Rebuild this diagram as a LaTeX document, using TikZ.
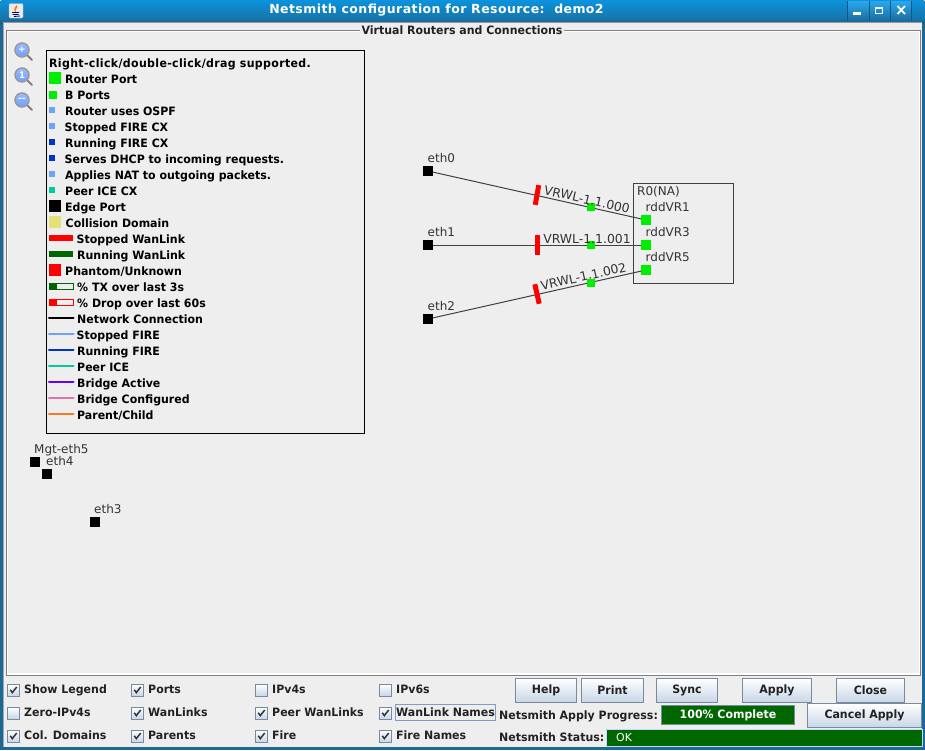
\documentclass[tikz,border=0pt]{standalone}
\usepackage{fontspec}
\setmainfont{DejaVu Sans}
\newfontfamily\uibold[FakeStretch=0.955]{DejaVu Sans Bold}
\newfontfamily\uihead[FakeStretch=0.955,LetterSpace=3]{DejaVu Sans Bold}
\newfontfamily\uititle[LetterSpace=3.4]{DejaVu Sans Bold}
\newfontfamily\uiplain{DejaVu Sans}
\definecolor{panelbg}{HTML}{EEEEEE}
\definecolor{winblue}{HTML}{1B6A96}
\definecolor{titletop}{HTML}{0B93DD}
\definecolor{titlebot}{HTML}{1A6C9C}
\definecolor{btntop}{HTML}{2AA8EE}
\definecolor{portgreen}{HTML}{00EE00}
\definecolor{fireLight}{HTML}{6F9FFF}
\definecolor{fireDark}{HTML}{0033CC}
\definecolor{iceGreen}{HTML}{00CC99}
\definecolor{colDomain}{HTML}{E6E07A}
\definecolor{wanGreen}{HTML}{006600}
\definecolor{wanRed}{HTML}{FF0000}
\definecolor{bridgeA}{HTML}{6600FF}
\definecolor{bridgeC}{HTML}{DD77AA}
\definecolor{parentC}{HTML}{FF7722}
\definecolor{btnEdge}{HTML}{7A8A9E}
\definecolor{btnBot}{HTML}{C6D6E8}
\definecolor{uiText}{HTML}{222222}
\tikzset{
  legtxt/.style={inner sep=0pt,anchor=base west,font=\uibold\fontsize{11.5}{13}\selectfont,text=black},
  uitxt/.style={inner sep=0pt,anchor=base west,font=\uibold\fontsize{11.5}{13}\selectfont,text=uiText},
  nettxt/.style={inner sep=0pt,anchor=base west,font=\uiplain\fontsize{12}{14}\selectfont,text=black!80},
  wantxt/.style={inner sep=0pt,font=\uiplain\fontsize{12.4}{14}\selectfont,text=black!80},
  edgeport/.style={fill=black,inner sep=0pt,outer sep=0pt,minimum width=10pt,minimum height=10pt},
  routerport/.style={fill=portgreen,inner sep=0pt,outer sep=0pt,minimum width=10pt,minimum height=10pt},
  bport/.style={fill=portgreen,inner sep=0pt,outer sep=0pt,minimum width=8pt,minimum height=8pt},
  wanbar/.style={fill=wanRed,inner sep=0pt,outer sep=0pt,minimum width=5pt,minimum height=20pt},
  netline/.style={draw=black!75,line width=1pt},
  btn/.style={draw=btnEdge,line width=1pt,top color=white,bottom color=btnBot,inner sep=0pt,outer sep=0pt,font=\uibold\fontsize{11.5}{13}\selectfont,text=uiText},
  cb/.style={draw=btnEdge,line width=1pt,top color=white,bottom color=btnBot,inner sep=0pt,outer sep=0pt,minimum width=12pt,minimum height=12pt},
  zoomglass/.style={circle,draw=black!40,line width=1.5pt,inner sep=0pt,minimum width=14pt,top color=fireLight!70,bottom color=fireLight,text=white,font=\uibold\fontsize{9}{9}\selectfont},
  legline/.style={line width=2pt,line cap=round},
}
\newcommand{\chkmark}[1]{\draw[line width=1.5pt,black!80] ([xshift=-3.2pt,yshift=0.2pt]#1.center) -- ([xshift=-1.2pt,yshift=-2.6pt]#1.center) -- ([xshift=3.2pt,yshift=3pt]#1.center);}
\begin{document}
\begin{tikzpicture}[x=1pt,y=-1pt]
\useasboundingbox (0,0) rectangle (925,750);
% window
\fill[panelbg] (0,0) rectangle (925,750);
\fill[winblue] (0,21) rectangle (3,750);
\fill[winblue] (922,21) rectangle (925,750);
\fill[winblue] (0,747) rectangle (925,750);
\fill[top color=titletop,bottom color=titlebot,rounded corners=3pt] (0,0) rectangle (925,24);
\fill[titlebot] (0,20) rectangle (925,22);
\fill[black!40] (3,21.5) rectangle (922,22.5);
\fill[panelbg] (3,22.5) rectangle (922,747);
\draw[black!35,line width=1pt] (3.5,22) -- (3.5,747);
% title buttons
\foreach \a/\b in {847/869,869/890,890/911}{
  \fill[top color=btntop,bottom color=titlebot] (\a,1) rectangle (\b,21);
  \draw[titlebot!80!black] (\a,1) -- (\a,21);
}
\draw[titlebot!80!black] (911,1) -- (911,21);
\fill[white] (853,12) rectangle (861,14.5);
\draw[white,line width=1pt] (875.5,7.5) rectangle (882.5,13.5);
\fill[white] (875,7) rectangle (883,9);
\draw[white,line width=1.8pt] (897.5,6) -- (905,14) (905,6) -- (897.5,14);
% java icon
\fill[black!8,draw=black!30,rounded corners=1pt] (9,3.5) rectangle (23,18);
\fill[orange!90!red] (16.5,5) .. controls (19,8) and (14,9) .. (16,12) .. controls (12.5,10) and (15,8) .. (16.5,5);
\draw[blue!40!black,line width=0.8pt] (12,12.5) -- (19,12.5) (12.5,14.5) -- (18.5,14.5) (14,16.5) -- (20,16);
\node[inner sep=0pt,font=\uititle\fontsize{12.5}{15}\selectfont,text=white] (title) at (436.5,10) {Netsmith configuration for Resource:\ \ demo2};
% titled panel border
\draw[white,line width=1pt] (7.5,31.5) -- (919.5,31.5) (7.5,31.5) -- (7.5,674);
\fill[white] (7,673) rectangle (920,675);
\fill[white] (918.5,31) rectangle (920,675);
\draw[black!50,line width=1pt] (6.5,30.5) -- (920.5,30.5) -- (920.5,675.5) -- (6.5,675.5) -- cycle;
\node[fill=panelbg,inner xsep=1.5pt,inner ysep=1pt,anchor=center,font=\uibold\fontsize{11.5}{13}\selectfont,text=uiText] (paneltitle) at (462,30.5) {Virtual Routers and Connections};
% zoom icons
\foreach \n/\y/\s in {zin/50/+,zreset/75/1,zout/100/{--}}{
  \draw[black!50,line width=2pt,line cap=round] (27,\y+5) -- (32,\y+10);
  \node[zoomglass] (\n) at (22,\y) {\s};
}
% legend
\node[draw=black,line width=1pt,inner sep=0pt,outer sep=0pt,minimum width=318pt,minimum height=383pt,anchor=north west] (legend) at (46.5,50.5) {};
\node[legtxt,font=\uihead\fontsize{11.5}{13}\selectfont] (l0) at (49,67.5) {Right-click/double-click/drag supported.};
\foreach \n/\xx/\yy/\tt in {a/65/79/Router Port,b/65/95/B Ports,c/65/111/Router uses OSPF,d/64.5/127/Stopped FIRE CX,e/65/143/Running FIRE CX,f/64.5/159/Serves DHCP to incoming requests.,g/65/175/Applies NAT to outgoing packets.,h/65/191/Peer ICE CX,i/65/207/Edge Port,j/65.5/223/Collision Domain,k/76.5/239/Stopped WanLink,m/77/255/Running WanLink,n/65/271/{Phantom/Unknown},o/77/287/\% TX over last 3s,p/77/303/\% Drop over last 60s,q/77/319/Network Connection,r/76.5/335/Stopped FIRE,s/77/351/Running FIRE,t/77/367/Peer ICE,u/77/383/Bridge Active,v/77/399/Bridge Configured,w/77/415/{Parent/Child}}{
  \node[legtxt] (lt\n) at (\xx,\yy+4.5) {\tt};
}
\fill[portgreen] (49,72) rectangle (61,84);
\fill[portgreen] (49,91) rectangle (57,99);
\fill[fireLight] (49,107) rectangle (55,113);
\fill[fireLight] (49,123) rectangle (55,129);
\fill[fireDark] (49,139) rectangle (55,145);
\fill[fireDark] (49,155) rectangle (55,161);
\fill[fireLight] (49,171) rectangle (55,177);
\fill[iceGreen] (49,187) rectangle (55,193);
\fill[black] (49,200) rectangle (61,212);
\fill[colDomain] (49,216) rectangle (61,228);
\fill[wanRed] (49,235) rectangle (73,241);
\fill[wanGreen] (49,251) rectangle (73,257);
\fill[wanRed] (49,264) rectangle (61,276);
\draw[wanGreen,line width=1pt] (49.5,283.5) rectangle (73.5,289.5);
\fill[wanGreen] (49,283) rectangle (57,290);
\draw[wanRed,line width=1pt] (49.5,299.5) rectangle (73.5,305.5);
\fill[wanRed] (49,299) rectangle (57,306);
\foreach \yy/\cc in {318.3/black,334.3/fireLight,350.3/fireDark,366.3/iceGreen,382.3/bridgeA,398.3/bridgeC,414.3/parentC}{
  \draw[legline,\cc] (49,\yy) -- (73.5,\yy);
}
% free edge ports
\node[edgeport] (mgt) at (35,462) {};
\node[edgeport] (eth4) at (47,474) {};
\node[edgeport] (eth3) at (95,522) {};
\node[nettxt] (mgtl) at (34,453) {Mgt-eth5};
\node[nettxt] (eth4l) at (46,465) {eth4};
\node[nettxt] (eth3l) at (94,513) {eth3};
% router
\node[draw=black!75,line width=1pt,fill=panelbg,inner sep=0pt,outer sep=0pt,minimum width=100pt,minimum height=100pt] (r0) at (683.5,233.5) {};
\node[nettxt] (r0l) at (637,195) {R0(NA)};
\node[nettxt] (r1l) at (645.5,211) {rddVR1};
\node[nettxt] (r3l) at (645.5,236) {rddVR3};
\node[nettxt] (r5l) at (645.5,261) {rddVR5};
\node[routerport] (vr1) at (646,220) {};
\node[routerport] (vr3) at (646,245) {};
\node[routerport] (vr5) at (646,270) {};
\node[edgeport] (eth0) at (428,171) {};
\node[edgeport] (eth1) at (428,245) {};
\node[edgeport] (eth2) at (428,319) {};
\node[nettxt] (eth0l) at (427.5,162) {eth0};
\node[nettxt] (eth1l) at (427.5,236) {eth1};
\node[nettxt] (eth2l) at (427.5,310) {eth2};
\draw[netline] (eth0) -- (vr1);
\draw[netline] (eth1) -- (vr3);
\draw[netline] (eth2) -- (vr5);
\node[wanbar,rotate=-10] (b0) at (537,195) {};
\node[wanbar] (b1) at (537.3,245) {};
\node[wanbar,rotate=12.7] (b2) at (537,294) {};
\node[bport] (m0) at (591,207) {};
\node[bport] (m1) at (591,245.3) {};
\node[bport] (m2) at (591,283) {};
\node[wantxt,rotate=-12.7] (w0) at (587,199.5) {VRWL-1.1.000};
\node[wantxt] (w1) at (587,238.5) {VRWL-1.1.001};
\node[wantxt,rotate=12.7] (w2) at (583.5,276.5) {VRWL-1.1.002};
% checkboxes
\foreach \n/\xx/\yy/\tt/\on in {a/13.5/690/Show Legend/1,b/137.5/690/Ports/1,c/261.5/690/IPv4s/0,d/385.5/690/IPv6s/0,e/13.5/713/Zero-IPv4s/0,f/137.5/713/WanLinks/1,g/261.5/713/Peer WanLinks/1,h/385.5/713/WanLink Names/1,i/13.5/736/Col. Domains/1,j/137.5/736/Parents/1,k/261.5/736/Fire/1,m/385.5/736/Fire Names/1}{
  \node[cb] (cb\n) at (\xx,\yy) {};
  \ifnum\on=1 \chkmark{cb\n}\fi
  \node[uitxt] (cbt\n) at (\xx+10.5,\yy+3.5) {\tt};
}
\draw[fireLight!70!black!70,line width=1pt] (395.5,704.5) rectangle (495.5,720.5);
% buttons
\node[btn,minimum width=61pt,minimum height=24pt] (help) at (546,690.5) {Help};
\node[btn,minimum width=62pt,minimum height=24pt] (print) at (612.5,690.5) {Print};
\node[btn,minimum width=61pt,minimum height=24pt] (sync) at (687,690.5) {Sync};
\node[btn,minimum width=69pt,minimum height=24pt] (apply) at (777,690.5) {Apply};
\node[btn,minimum width=68pt,minimum height=24pt] (close) at (870.5,690.5) {Close};
\node[btn,minimum width=114pt,minimum height=24pt] (cancel) at (864.5,715.5) {Cancel Apply};
\node[uitxt] (prog) at (499,719) {Netsmith Apply Progress:};
\node[uitxt] (stat) at (499,741) {Netsmith Status:};
\node[draw=btnEdge,line width=1.5pt,fill=wanGreen,inner sep=0pt,minimum width=133pt,minimum height=19pt,text=white,font=\uibold\fontsize{11.5}{13}\selectfont] (pbar) at (728,715) {100\% Complete};
\node[draw=fireLight!40!white,line width=1pt,fill=wanGreen,inner sep=0pt,minimum width=316pt,minimum height=17pt,anchor=west] (sbar) at (606,737.5) {};
\node[inner sep=0pt,anchor=base west,text=white,font=\uiplain\fontsize{11}{13}\selectfont] (oktxt) at (616,741) {OK};
\end{tikzpicture}
\end{document}
